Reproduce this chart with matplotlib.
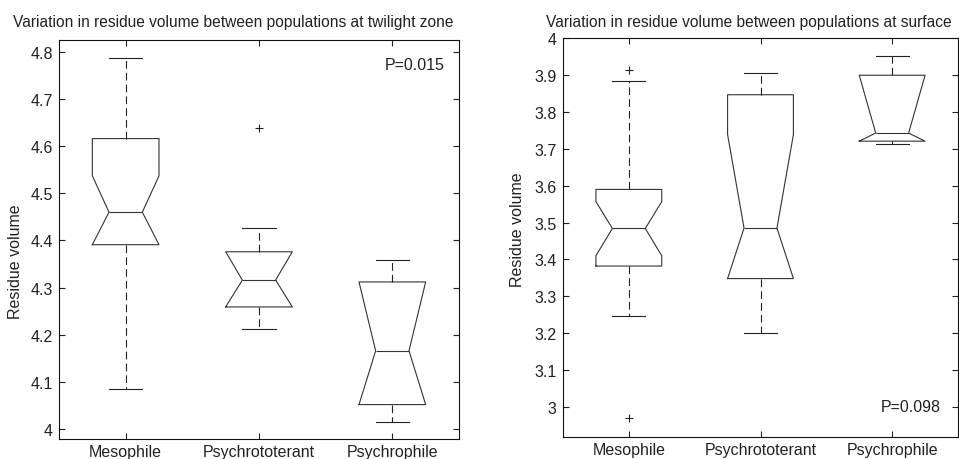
import matplotlib
matplotlib.use("Agg")
import matplotlib.pyplot as plt
from matplotlib.ticker import FormatStrFormatter

plt.rcParams['font.family'] = ['Liberation Sans', 'DejaVu Sans']
plt.rcParams['lines.scale_dashes'] = False

groups = ['Mesophile', 'Psychrototerant', 'Psychrophile']

# twilight zone: values
tw_whislo = [4.084, 4.213, 4.014]
tw_q1 = [4.391, 4.259, 4.052]
tw_cilo = [4.391, 4.259, 4.052]
tw_med = [4.460, 4.316, 4.166]
tw_cihi = [4.537, 4.376, 4.312]
tw_q3 = [4.616, 4.376, 4.312]
tw_whishi = [4.787, 4.426, 4.359]
tw_fliers = [[], [4.638], []]

# surface
sf_whislo = [3.246, 3.201, 3.714]
sf_q1 = [3.382, 3.348, 3.721]
sf_cilo = [3.410, 3.348, 3.721]
sf_med = [3.484, 3.485, 3.743]
sf_cihi = [3.557, 3.739, 3.900]
sf_q3 = [3.590, 3.847, 3.900]
sf_whishi = [3.883, 3.906, 3.953]
sf_fliers = [[3.914, 2.970], [], []]

FS = 11.5
TITLE_FS = 11.2


def make_stats(whislo, q1, cilo, med, cihi, q3, whishi, fliers):
    out = []
    for i in range(len(groups)):
        out.append(dict(label=groups[i], whislo=whislo[i], q1=q1[i], cilo=cilo[i],
                        med=med[i], cihi=cihi[i], q3=q3[i], whishi=whishi[i],
                        fliers=fliers[i]))
    return out


def draw(ax, stats, ylim, yticks):
    lw = 0.8
    ax.bxp(stats, shownotches=True, widths=0.5, showfliers=True,
           boxprops=dict(color='#333333', linewidth=lw),
           medianprops=dict(color='#333333', linewidth=lw),
           whiskerprops=dict(color='#222222', linewidth=lw, linestyle=(0, (5.5, 3))),
           capprops=dict(color='#222222', linewidth=lw),
           flierprops=dict(marker='+', markeredgecolor='#222222', markersize=6,
                           markeredgewidth=0.8, linestyle='none'))
    ax.set_xlim(0.5, 3.5)
    ax.set_ylim(*ylim)
    ax.set_yticks(yticks)
    ax.yaxis.set_major_formatter(FormatStrFormatter('%g'))
    ax.set_xticks([1, 2, 3])
    ax.set_xticklabels(groups)
    ax.tick_params(direction='in', length=4.5, width=0.8, top=True, right=True,
                   labelsize=FS, colors='#222222', pad=4.5)
    ax.tick_params(axis='x', pad=3.5)
    for s in ax.spines.values():
        s.set_linewidth(0.8)
        s.set_color('#111111')


fig = plt.figure(figsize=(9.59, 4.60), dpi=100)
ax1 = fig.add_axes([59 / 959, 20 / 460, 400 / 959, 399 / 460])
ax2 = fig.add_axes([563 / 959, 22 / 460, 395 / 959, 399 / 460])

draw(ax1, make_stats(tw_whislo, tw_q1, tw_cilo, tw_med, tw_cihi, tw_q3, tw_whishi, tw_fliers),
     (3.979, 4.825), [4.0, 4.1, 4.2, 4.3, 4.4, 4.5, 4.6, 4.7, 4.8])
draw(ax2, make_stats(sf_whislo, sf_q1, sf_cilo, sf_med, sf_cihi, sf_q3, sf_whishi, sf_fliers),
     (2.918, 4.001), [3.0, 3.1, 3.2, 3.3, 3.4, 3.5, 3.6, 3.7, 3.8, 3.9, 4.0])

ax1.text(445 / 959, 1 - 66 / 460, 'P=0.015', transform=fig.transFigure,
         ha='right', va='center', fontsize=FS, color='#222222')
ax2.text(941 / 959, 1 - 408 / 460, 'P=0.098', transform=fig.transFigure,
         ha='right', va='center', fontsize=FS, color='#222222')

fig.text(233 / 959, 1 - 23 / 460, 'Variation in residue volume between populations at twilight zone',
         ha='center', va='center', fontsize=TITLE_FS, color='#222222')
fig.text(749 / 959, 1 - 23 / 460, 'Variation in residue volume between populations at surface',
         ha='center', va='center', fontsize=TITLE_FS, color='#222222')

fig.text(15 / 959, 1 - 262 / 460, 'Residue volume', rotation=90,
         ha='center', va='center', fontsize=FS, color='#222222')
fig.text(518 / 959, 1 - 230 / 460, 'Residue volume', rotation=90,
         ha='center', va='center', fontsize=FS, color='#222222')

fig.savefig('out.png', dpi=100)
